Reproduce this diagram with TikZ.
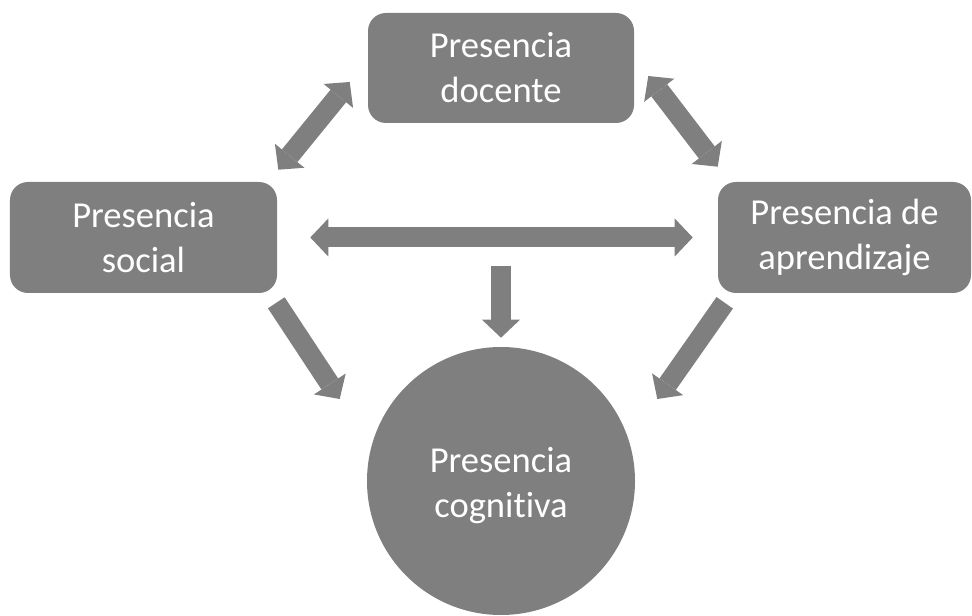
\documentclass[tikz,border=0pt]{standalone}
\usepackage{fontspec}
\setmainfont[Ligatures=NoCommon]{Carlito}
\usetikzlibrary{arrows.meta,calc}

\begin{document}
\begin{tikzpicture}[>={Triangle[width=0.95cm,length=0.45cm,line width=0pt]}]
        % --- CONFIGURACION ---
        \definecolor{gris}{RGB}{127, 127, 127}   % Gris de las formas

        \tikzset{
            caja/.style={fill=gris, rounded corners=0.45cm, text=white, align=center,
                inner sep=0pt, font=\fontsize{26}{32}\selectfont},
            flecha/.style={draw=gris, line width=0.5cm}
        }

        % Marco de la figura
        \useasboundingbox (0,0) rectangle (24.3,15.375);

        % --- PRESENCIAS ---
        \node[caja, minimum width=6.65cm, minimum height=2.75cm] (docente) at (12.525, 13.675) {Presencia\\docente};
        \node[caja, minimum width=6.675cm, minimum height=2.775cm] (social) at (3.5875, 9.4375) {Presencia\\social};
        \node[caja, minimum width=6.325cm, minimum height=2.775cm] (aprendizaje) at (21.1125, 9.4375) {Presencia de\\aprendizaje};
        \node[caja, circle, minimum size=6.7cm, text height=2cm] (cognitiva) at (12.525, 3.35) {Presencia\\cognitiva};

        % --- FLECHAS ---
        \draw[flecha, <->] ($(docente.west)+(-0.45,-0.35)$) -- ($(social.north east)+(0.025,0.3)$);
        \draw[flecha, <->] ($(docente.east)+(0.35,-0.2)$) -- ($(aprendizaje.north west)+(0,0.375)$);
        \draw[flecha, <->] ($(social.east)+(0.825,0)$) -- ($(aprendizaje.west)+(-0.625,0)$);

        % Hacia la presencia cognitiva
        \draw[flecha, ->] ($(cognitiva.north)+(0,2.025)$) -- ($(cognitiva.north)+(0,0.225)$);
        \draw[flecha, ->] ($(social.south east)+(-0.025,-0.2375)$) -- ($(cognitiva.west)+(-0.675,2.05)$);
        \draw[flecha, ->] ($(aprendizaje.south west)+(0.175,-0.2375)$) -- ($(cognitiva.east)+(0.55,2.05)$);
    \end{tikzpicture}
\end{document}
